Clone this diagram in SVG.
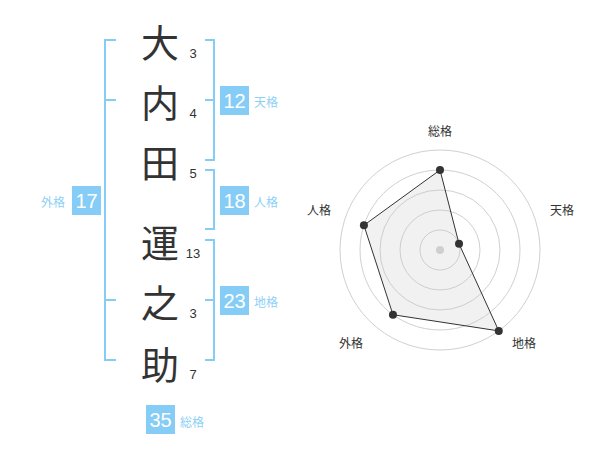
<svg xmlns="http://www.w3.org/2000/svg" width="600" height="470" viewBox="0 0 600 470">
<style>
text{font-family:"Liberation Sans","Noto Sans CJK JP",sans-serif;}
.kanji{font-family:"Noto Sans CJK JP",sans-serif;font-size:38px;fill:#333;text-anchor:middle;dominant-baseline:central;}
.stroke{font-size:13px;fill:#333;text-anchor:middle;dominant-baseline:central;}
.br{fill:none;stroke:#85cdf6;stroke-width:2;}
.box{fill:#85cdf6;}
.bnum{font-size:20px;fill:#fff;text-anchor:middle;dominant-baseline:central;}
.blab{font-family:"Noto Sans CJK JP",sans-serif;font-size:12px;fill:#8dd0f6;dominant-baseline:central;}
.ring{fill:none;stroke:#d0d0d0;stroke-width:1;}
.rlab{font-family:"Noto Sans CJK JP",sans-serif;font-size:12px;fill:#333;text-anchor:middle;dominant-baseline:central;}
.pt{fill:#333;}
</style>
<rect width="600" height="470" fill="#fff"/>
<g id="connectors">
<path class="br" d="M116,40H105V360H116M105,100H116M105,300H116"/>
<path class="br" d="M205,40H214V160H205M214,100H205"/>
<path class="br" d="M205,170H214V229H205"/>
<path class="br" d="M205,240H214V360H205M214,300H205"/>
</g>
<g id="name">
<g id="c1"><text class="kanji" x="160" y="40">大</text><text class="stroke" x="193" y="53">3</text></g>
<g id="c2"><text class="kanji" x="160" y="100">内</text><text class="stroke" x="193" y="113">4</text></g>
<g id="c3"><text class="kanji" x="160" y="160">田</text><text class="stroke" x="193" y="173">5</text></g>
<g id="c4"><text class="kanji" x="160" y="240">運</text><text class="stroke" x="193" y="253">13</text></g>
<g id="c5"><text class="kanji" x="160" y="300">之</text><text class="stroke" x="193" y="313">3</text></g>
<g id="c6"><text class="kanji" x="160" y="362">助</text><text class="stroke" x="193" y="374">7</text></g>
</g>
<g id="tenkaku"><rect class="box" x="220" y="86" width="29" height="29"/><text class="bnum" x="234.5" y="100.5">12</text><text class="blab" x="254" y="101">天格</text></g>
<g id="jinkaku"><rect class="box" x="220" y="186" width="29" height="29"/><text class="bnum" x="234.5" y="200.5">18</text><text class="blab" x="254" y="201">人格</text></g>
<g id="chikaku"><rect class="box" x="220" y="286" width="29" height="29"/><text class="bnum" x="234.5" y="300.5">23</text><text class="blab" x="254" y="301">地格</text></g>
<g id="gaikaku"><rect class="box" x="72" y="186" width="29" height="29"/><text class="bnum" x="86.5" y="200.5">17</text><text class="blab" x="41" y="201">外格</text></g>
<g id="soukaku"><rect class="box" x="146" y="405" width="29" height="29"/><text class="bnum" x="160.5" y="419.5">35</text><text class="blab" x="180" y="421">総格</text></g>
<g id="radar">
<circle class="ring" cx="440" cy="250" r="20"/>
<circle class="ring" cx="440" cy="250" r="40"/>
<circle class="ring" cx="440" cy="250" r="60"/>
<circle class="ring" cx="440" cy="250" r="80"/>
<circle class="ring" cx="440" cy="250" r="100"/>
<polygon points="440,170 459.02,243.82 498.78,330.9 392.98,314.72 363.92,225.28" fill="#c8c8c8" fill-opacity="0.25" stroke="#333" stroke-width="1"/>
<circle cx="440" cy="250" r="4" fill="#cfcfcf"/>
<circle class="pt" cx="440" cy="170" r="4"/>
<circle class="pt" cx="459.02" cy="243.82" r="4"/>
<circle class="pt" cx="498.78" cy="330.9" r="4"/>
<circle class="pt" cx="392.98" cy="314.72" r="4"/>
<circle class="pt" cx="363.92" cy="225.28" r="4"/>
<text class="rlab" x="440" y="130">総格</text>
<text class="rlab" x="562" y="209">天格</text>
<text class="rlab" x="524" y="342">地格</text>
<text class="rlab" x="351" y="342">外格</text>
<text class="rlab" x="319" y="209">人格</text>
</g>
</svg>
